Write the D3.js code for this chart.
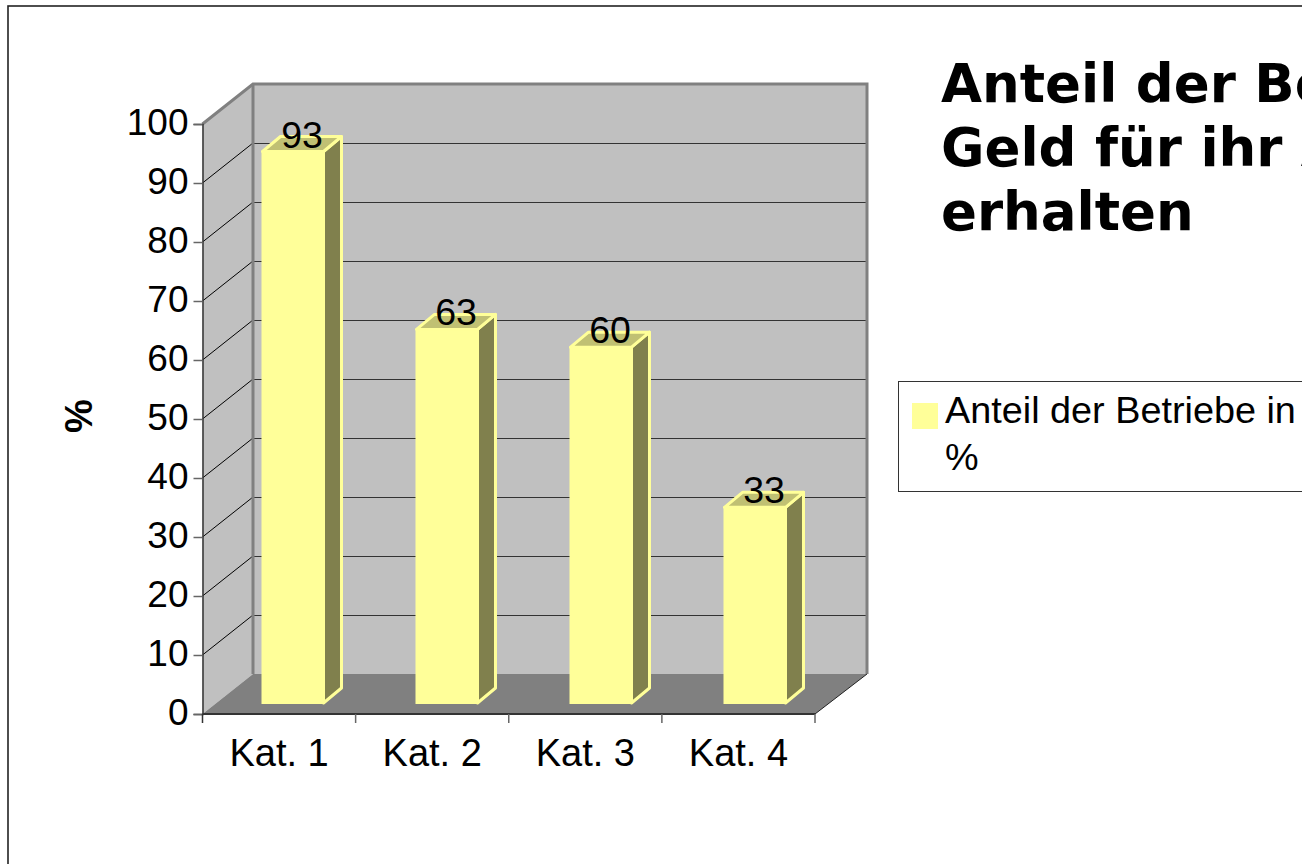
<!DOCTYPE html>
<html>
<head>
<meta charset="utf-8">
<script src="https://cdn.jsdelivr.net/npm/d3@7"></script>
<style>
html, body { margin: 0; padding: 0; background: #fff; overflow: hidden; }
text { font-family: "Liberation Sans", Arial, sans-serif; fill: #000; }
</style>
</head>
<body>
<svg id="canvas" width="1302" height="864"></svg>
<script>
// values
let categories = ['Kat. 1', 'Kat. 2', 'Kat. 3', 'Kat. 4'];
let values = [93, 63, 60, 33];
let yTicks = [0, 10, 20, 30, 40, 50, 60, 70, 80, 90, 100];
let titleLines = ['Anteil der Betriebe, die', 'Geld für ihr Angebot', 'erhalten'];
let legendLines = ['Anteil der Betriebe in', '%'];

let canvas = d3.select('#canvas');

// 3d box offsets
let depthY = -40;
let barDepth = {x: 18, y: -15};

let x = d3.scaleBand().domain(categories).range([202.5, 815]);
// the bars sit further back, so they get their own scales
let barX = d3.scaleBand().domain(categories).range([216, 832]);
let y = d3.scaleLinear().domain([0, 100]).range([714, 124]);
let barY = d3.scaleLinear().domain([0, 100]).range([703, 110]);
let barWidth = 61;

let path = (pts) => 'M' + pts.map((p) => p.join(',')).join('L') + 'Z';

// outer frame
canvas.append('rect')
    .attr('x', 8).attr('y', 6)
    .attr('width', 1400).attr('height', 1000)
    .attr('fill', 'none').attr('stroke', '#222').attr('stroke-width', 1.6);

let x0 = x.range()[0], x1 = x.range()[1];
let backX0 = 253, backX1 = 867;
let yBase = y(0), yTop = y(100);

// back wall
canvas.append('rect')
    .attr('x', backX0).attr('y', yTop + depthY)
    .attr('width', backX1 - backX0).attr('height', yBase - yTop)
    .attr('fill', '#c0c0c0');

// left wall
canvas.append('path')
    .attr('d', path([[x0, yBase], [x0, yTop], [backX0, yTop + depthY], [backX0, yBase + depthY]]))
    .attr('fill', '#c0c0c0');

// floor
canvas.append('path')
    .attr('d', path([[x0, yBase], [x1, yBase], [backX1, yBase + depthY], [backX0, yBase + depthY]]))
    .attr('fill', '#808080');

// gridlines, back wall and left wall
let grid = canvas.append('g');
yTicks.slice(1, -1).forEach((t) => {
    grid.append('line')
        .attr('x1', backX0).attr('x2', backX1)
        .attr('y1', y(t) + depthY + 0.5).attr('y2', y(t) + depthY + 0.5)
        .attr('stroke', '#333').attr('stroke-width', 1);
    grid.append('line')
        .attr('x1', x0).attr('x2', backX0)
        .attr('y1', y(t)).attr('y2', y(t) + depthY)
        .attr('stroke', '#000').attr('stroke-width', 1);
});

// wall borders
canvas.append('path')
    .attr('d', `M${x0},${yTop}L${backX0},${yTop + depthY}H${backX1}V${yBase + depthY}`)
    .attr('fill', 'none').attr('stroke', '#808080').attr('stroke-width', 3);
canvas.append('line')
    .attr('x1', backX0).attr('x2', backX0)
    .attr('y1', yTop + depthY).attr('y2', yBase + depthY)
    .attr('stroke', '#808080').attr('stroke-width', 3);
canvas.append('line')
    .attr('x1', x1).attr('x2', backX1)
    .attr('y1', yBase).attr('y2', yBase + depthY)
    .attr('stroke', '#222').attr('stroke-width', 1);

// y axis
let yAxis = d3.axisLeft(y).tickValues(yTicks).tickSize(9).tickPadding(5);
let yG = canvas.append('g')
    .attr('transform', `translate(${x0},0)`)
    .call(yAxis);
yG.select('.domain').attr('stroke', '#333').attr('stroke-width', 1.5);
yG.selectAll('line').attr('stroke', '#666').attr('stroke-width', 1.5);
yG.selectAll('text')
    .attr('dy', '0.29em')
    .style('font-size', '37px')
    .style('font-family', '"Liberation Sans"')
    .attr('fill', '#000');

// x axis
let xAxis = d3.axisBottom(x).tickSize(0).tickPadding(25);
let xG = canvas.append('g')
    .attr('transform', `translate(0,${yBase})`)
    .call(xAxis);
xG.select('.domain').attr('stroke', '#333').attr('stroke-width', 2).attr('d', `M${x0},0H${x1}`);
xG.selectAll('text')
    .style('font-size', '38px')
    .style('font-family', '"Liberation Sans"')
    .attr('fill', '#000');
[x0].concat(categories.map((c) => x(c) + x.bandwidth())).forEach((px) => {
    xG.append('line')
        .attr('x1', px).attr('x2', px).attr('y1', 0).attr('y2', 9)
        .attr('stroke', px === x0 ? '#333' : '#666').attr('stroke-width', 1.5);
});

// bars
let bars = canvas.selectAll('g.bar')
    .data(values)
    .enter()
    .append('g')
    .attr('class', 'bar');

let barLeft = (d, i) => barX(categories[i]) + barX.bandwidth() / 2 - barWidth / 2;
let edge = '#ffff99';

bars.append('path')
    .attr('d', (d, i) => {
        let l = barLeft(d, i), r = l + barWidth, t = barY(d), b = barY(0);
        return path([[r, b], [r, t], [r + barDepth.x, t + barDepth.y], [r + barDepth.x, b + barDepth.y]]);
    })
    .attr('fill', '#80804d').attr('stroke', edge).attr('stroke-width', 3).attr('stroke-linejoin', 'round');

bars.append('path')
    .attr('d', (d, i) => {
        let l = barLeft(d, i), r = l + barWidth, t = barY(d);
        return path([[l, t], [r, t], [r + barDepth.x, t + barDepth.y], [l + barDepth.x, t + barDepth.y]]);
    })
    .attr('fill', '#c0c073').attr('stroke', edge).attr('stroke-width', 3).attr('stroke-linejoin', 'round');

bars.append('rect')
    .attr('x', barLeft)
    .attr('y', (d) => barY(d))
    .attr('width', barWidth)
    .attr('height', (d) => barY(0) - barY(d))
    .attr('fill', edge).attr('stroke', edge).attr('stroke-width', 2);

bars.append('text')
    .text((d) => d)
    .attr('x', (d, i) => barLeft(d, i) + barWidth / 2 + barDepth.x / 2)
    .attr('y', (d) => barY(d) - 4)
    .attr('text-anchor', 'middle')
    .style('font-size', '37.5px');

// y axis title
canvas.append('text')
    .text('%')
    .attr('transform', 'translate(92,416) rotate(-90)')
    .attr('text-anchor', 'middle')
    .style('font-size', '38px')
    .style('font-weight', 'bold');

// chart title
canvas.append('g').selectAll('text')
    .data(titleLines)
    .enter()
    .append('text')
    .text((d) => d)
    .attr('x', 941)
    .attr('y', (d, i) => 102 + i * 64)
    .style('font-family', '"DejaVu Sans"')
    .style('font-weight', 'bold')
    .style('font-size', '53px');

// legend
canvas.append('rect')
    .attr('x', 898.5).attr('y', 381.5)
    .attr('width', 500).attr('height', 110)
    .attr('fill', '#fff').attr('stroke', '#333');
canvas.append('rect')
    .attr('x', 912).attr('y', 403)
    .attr('width', 26).attr('height', 26)
    .attr('fill', edge);
canvas.append('g').selectAll('text')
    .data(legendLines)
    .enter()
    .append('text')
    .text((d) => d)
    .attr('x', 945)
    .attr('y', (d, i) => 423 + i * 47)
    .style('font-size', '37.8px');
</script>
</body>
</html>
